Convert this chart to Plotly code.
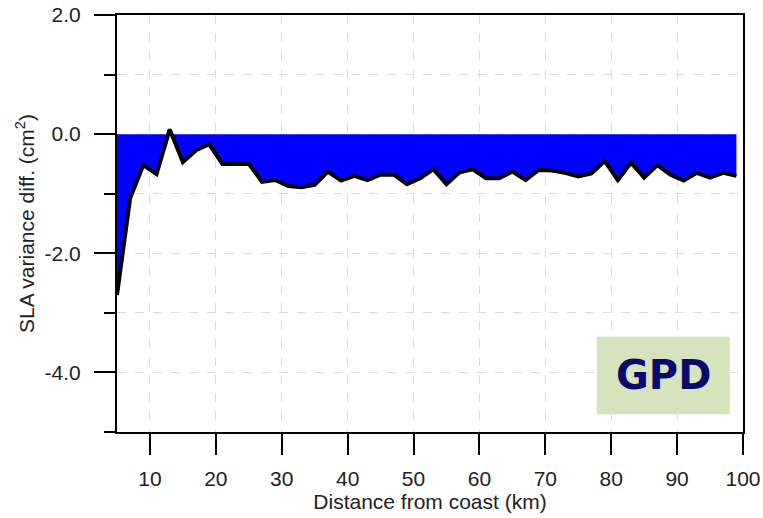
import plotly.graph_objects as go

# Distance from the coast (km) and SLA variance difference (cm^2)
distance_km = [5, 7, 9, 11, 13, 15, 17, 19, 21, 23, 25, 27, 29, 31, 33, 35, 37, 39,
               41, 43, 45, 47, 49, 51, 53, 55, 57, 59, 61, 63, 65, 67, 69, 71, 73,
               75, 77, 79, 81, 83, 85, 87, 89, 91, 93, 95, 97, 99]
variance_diff = [-2.70, -1.07, -0.52, -0.67, 0.08, -0.47, -0.27, -0.17, -0.50, -0.50,
                 -0.50, -0.80, -0.77, -0.87, -0.89, -0.85, -0.63, -0.78, -0.70, -0.77,
                 -0.68, -0.68, -0.84, -0.74, -0.59, -0.84, -0.64, -0.59, -0.74, -0.74,
                 -0.63, -0.77, -0.60, -0.61, -0.65, -0.71, -0.66, -0.45, -0.77, -0.48,
                 -0.73, -0.52, -0.68, -0.78, -0.65, -0.73, -0.65, -0.70]
zero_line = [0.0] * len(distance_km)

x_ticks = [10, 20, 30, 40, 50, 60, 70, 80, 90, 100]
y_ticks = [2.0, 0.0, -2.0, -4.0]
y_tick_text = ["2.0", "0.0", "-2.0", "-4.0"]

FONT = "Liberation Sans, Arial"

fig = go.Figure()

# Baseline used as the lower edge of the shaded area
fig.add_trace(go.Scatter(x=distance_km, y=zero_line, mode="lines",
                         line=dict(width=0, color="rgba(0,0,0,0)"),
                         hoverinfo="skip", showlegend=False))
# Variance difference, shaded to zero
fig.add_trace(go.Scatter(x=distance_km, y=variance_diff, mode="lines",
                         line=dict(color="black", width=4),
                         fill="tonexty", fillcolor="#0000FF",
                         showlegend=False))

grid_style = dict(showgrid=True, gridcolor="#dcdcdc", gridwidth=1, griddash="dash")

fig.update_xaxes(
    range=[5, 100], tickvals=x_ticks,
    ticks="outside", ticklen=21, tickwidth=2, tickcolor="black",
    ticklabelstandoff=6,
    showline=True, linecolor="black", linewidth=2, mirror=True,
    zeroline=False, automargin=False,
    tickfont=dict(family=FONT, size=21, color="#222"),
    title=dict(text="Distance from coast (km)",
               font=dict(family=FONT, size=21, color="#222"),
               standoff=4),
    **grid_style,
)
fig.update_yaxes(
    range=[-5, 2], tickvals=y_ticks, ticktext=y_tick_text,
    ticks="outside", ticklen=21, tickwidth=2, tickcolor="black",
    ticklabelstandoff=9,
    minor=dict(tickvals=[1, -1, -3, -5], ticks="outside", ticklen=11, tickwidth=2,
               tickcolor="black", showgrid=True, gridcolor="#dcdcdc", griddash="dash"),
    showline=True, linecolor="black", linewidth=2, mirror=True,
    zeroline=False, automargin=False,
    tickfont=dict(family=FONT, size=21, color="#222"),
    title=dict(text="SLA variance diff. (cm<sup>2</sup>)",
               font=dict(family=FONT, size=21, color="#222"),
               standoff=4),
    **grid_style,
)

# Label box for the data set
fig.add_shape(type="rect", xref="x", yref="y", x0=77.8, x1=98.0, y0=-4.7, y1=-3.4,
              fillcolor="#d6e4bd", line=dict(width=0), layer="above")
fig.add_annotation(x=87.9, y=-4.05, xref="x", yref="y", text="<b>GPD</b>",
                   showarrow=False,
                   font=dict(family="Comic Sans MS, DejaVu Sans", size=40, color="#0a0a6e"))

fig.update_layout(
    width=763, height=518,
    margin=dict(l=117, r=20, t=15, b=86),
    plot_bgcolor="white", paper_bgcolor="white",
)

fig.write_html("out.html")
